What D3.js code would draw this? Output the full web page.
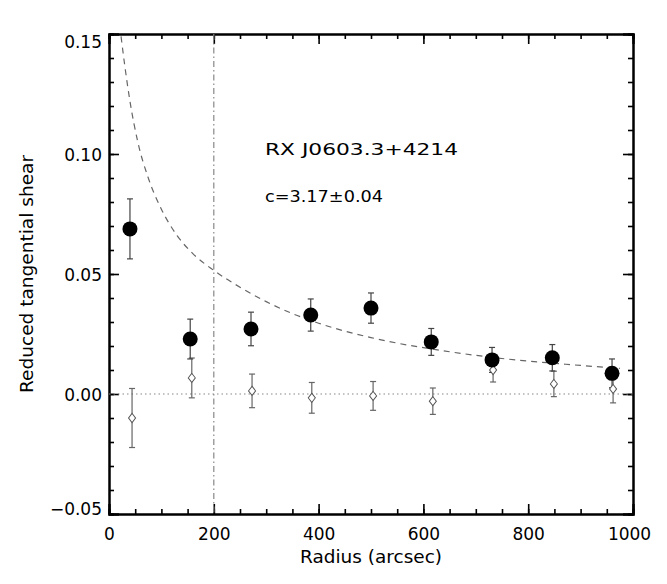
<!DOCTYPE html>
<html>
<head>
<meta charset="utf-8">
<script src="https://cdn.jsdelivr.net/npm/d3@7"></script>
<style>
  body { margin: 0; background: #fff; }
  svg text { font-family: "DejaVu Sans", sans-serif; fill: #000; }
</style>
</head>
<body>
<div id="chart"></div>
<script>
// tangential shear (filled circles)
const radius = [40, 155, 271, 385, 500, 615, 731, 846, 960];
const shear = [0.0688, 0.0229, 0.0271, 0.0329, 0.0358, 0.0217, 0.0142, 0.0151, 0.0086];
const shearErr = [0.0125, 0.0083, 0.007, 0.0067, 0.0063, 0.0056, 0.0052, 0.0055, 0.006];

// cross shear (open diamonds)
const radiusX = [44, 158, 273, 387, 504, 618, 733, 849, 962];
const crossShear = [-0.010, 0.0067, 0.0013, -0.0016, -0.0008, -0.003, 0.010, 0.0042, 0.0021];
const crossErr = [0.0123, 0.0083, 0.007, 0.0064, 0.006, 0.0055, 0.005, 0.0053, 0.0058];

// fitted model curve
const modelR = [23, 30, 40, 55, 75, 100, 130, 160, 200, 250, 300, 350, 400, 450, 500, 550, 600, 650, 700, 750, 800, 850, 900, 975];
const modelG = [0.149, 0.137, 0.122, 0.105, 0.090, 0.077, 0.066, 0.0585, 0.0515, 0.0445, 0.0385, 0.0335, 0.0295, 0.0262, 0.0235, 0.0212, 0.0193, 0.0176, 0.0161, 0.0148, 0.0137, 0.0128, 0.0119, 0.0107];

const xTicks = [0, 200, 400, 600, 800, 1000];
const yTicks = [-0.05, 0.00, 0.05, 0.10, 0.15];
const rCut = 200;

const width = 667, height = 584;
const mLeft = 109, mRight = 633, mTop = 34, mBottom = 514;

const svg = d3.select("#chart").append("svg")
  .attr("width", width).attr("height", height);

const x = d3.scaleLinear().domain([0, 1000]).range([mLeft, mRight]);
const y = d3.scaleLinear().domain([-0.05, 0.15]).range([mBottom, mTop]);

const xMinor = d3.range(0, 1001, 50);
const yMinor = d3.range(-50, 151, 10).map(d => d / 1000);

// axes: major + minor, ticks pointing inward
function drawAxis(axisFn, scale, ticks, minor, transform, labels, pad) {
  const g = svg.append("g").attr("transform", transform);
  g.call(axisFn(scale).tickValues(minor).tickSize(-5).tickFormat(""));
  const m = svg.append("g").attr("transform", transform);
  m.call(axisFn(scale).tickValues(ticks).tickSize(-10).tickPadding(pad || 7)
    .tickFormat(labels ? labels : ""));
  [g, m].forEach(s => {
    s.selectAll("line").attr("stroke", "#000").attr("stroke-width", 1.6);
    s.select(".domain").attr("stroke", "#000").attr("stroke-width", 2).attr("fill", "none");
    s.selectAll("text").attr("font-size", 17).attr("font-family", "DejaVu Sans");
  });
  return m;
}

const xb = drawAxis(d3.axisBottom, x, xTicks, xMinor, `translate(0,${mBottom})`, d3.format("d"), 14);
xb.selectAll("text").attr("dy", "0.71em")
  .attr("dx", d => d === 1000 ? -4 : 0);
drawAxis(d3.axisTop, x, xTicks, xMinor, `translate(0,${mTop})`, null);
const yl = drawAxis(d3.axisLeft, y, yTicks, yMinor, `translate(${mLeft},0)`,
  d => d < 0 ? "\u22120.05" : d3.format(".2f")(d), 7);
// IDL keeps the end labels inside the frame
yl.selectAll("text").attr("dy", d => d === 0.15 ? "0.82em" : d === -0.05 ? "0.05em" : "0.36em");
drawAxis(d3.axisRight, y, yTicks, yMinor, `translate(${mRight},0)`, null);

// zero line
svg.append("line")
  .attr("x1", x(0)).attr("x2", x(1000))
  .attr("y1", y(0)).attr("y2", y(0))
  .attr("stroke", "#888").attr("stroke-width", 1.2)
  .attr("stroke-dasharray", "1.5,3");

// radius cut
svg.append("line")
  .attr("x1", x(rCut)).attr("x2", x(rCut))
  .attr("y1", y(0.15)).attr("y2", y(-0.05))
  .attr("stroke", "#888").attr("stroke-width", 1.2)
  .attr("stroke-dasharray", "6,3,1.5,3");

// model curve
const line = d3.line().x(d => x(d[0])).y(d => y(d[1])).curve(d3.curveMonotoneX);
svg.append("path")
  .datum(modelR.map((r, i) => [r, modelG[i]]))
  .attr("d", line)
  .attr("fill", "none").attr("stroke", "#666").attr("stroke-width", 1.2)
  .attr("stroke-dasharray", "6,5");

function errorBars(xs, vals, errs, color) {
  const g = svg.append("g").attr("stroke", color).attr("stroke-width", 1.2);
  xs.forEach((r, i) => {
    const cx = x(r), y1 = y(vals[i] + errs[i]), y2 = y(vals[i] - errs[i]);
    g.append("line").attr("x1", cx).attr("x2", cx).attr("y1", y1).attr("y2", y2);
    g.append("line").attr("x1", cx - 3).attr("x2", cx + 3).attr("y1", y1).attr("y2", y1);
    g.append("line").attr("x1", cx - 3).attr("x2", cx + 3).attr("y1", y2).attr("y2", y2);
  });
}

errorBars(radiusX, crossShear, crossErr, "#666");
errorBars(radius, shear, shearErr, "#444");

// open diamonds
svg.append("g").selectAll("path")
  .data(radiusX.map((r, i) => [r, crossShear[i]]))
  .join("path")
  .attr("d", d3.symbol(d3.symbolDiamond, 30))
  .attr("transform", d => `translate(${x(d[0])},${y(d[1])}) scale(1.2,0.9)`)
  .attr("fill", "#fff").attr("stroke", "#555").attr("stroke-width", 0.9);

// filled circles
svg.append("g").selectAll("circle")
  .data(radius.map((r, i) => [r, shear[i]]))
  .join("circle")
  .attr("cx", d => x(d[0])).attr("cy", d => y(d[1]))
  .attr("r", 7.5).attr("fill", "#000");

// labels (wide IDL-style lettering)
svg.append("text").attr("x", 265).attr("y", 155)
  .attr("font-size", 16.5)
  .attr("textLength", 193).attr("lengthAdjust", "spacingAndGlyphs")
  .text("RX J0603.3+4214");
svg.append("text").attr("x", 265).attr("y", 202)
  .attr("font-size", 15)
  .attr("textLength", 118).attr("lengthAdjust", "spacingAndGlyphs")
  .text("c=3.17\u00b10.04");

svg.append("text")
  .attr("x", (mLeft + mRight) / 2).attr("y", 563)
  .attr("text-anchor", "middle").attr("font-size", 17)
  .attr("textLength", 142).attr("lengthAdjust", "spacingAndGlyphs")
  .text("Radius (arcsec)");
svg.append("text")
  .attr("transform", `translate(33,${(mTop + mBottom) / 2}) rotate(-90)`)
  .attr("text-anchor", "middle").attr("font-size", 17)
  .attr("textLength", 238).attr("lengthAdjust", "spacingAndGlyphs")
  .text("Reduced tangential shear");
</script>
</body>
</html>
